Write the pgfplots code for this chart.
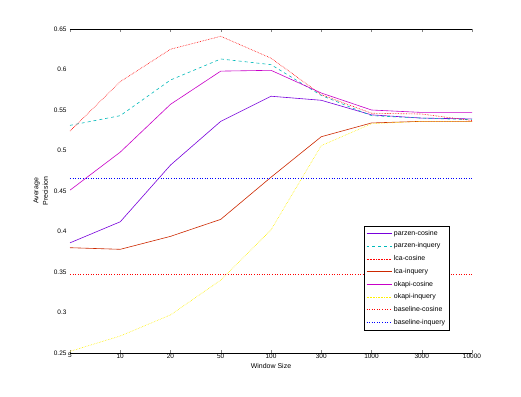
\documentclass[border=0pt]{standalone}
\usepackage{pgfplots}
\pgfplotsset{compat=1.18}
\usepackage{fontspec}
\setmainfont{Liberation Sans}
\definecolor{cpurple}{RGB}{120,0,220}
\definecolor{cmag}{RGB}{200,0,200}
\definecolor{ccyan}{RGB}{0,185,185}
\definecolor{cred}{RGB}{255,0,0}
\definecolor{corange}{RGB}{205,40,0}
\definecolor{cyellow}{RGB}{255,240,0}
\definecolor{cblue}{RGB}{0,0,255}
\begin{document}
\begin{tikzpicture}
\path[use as bounding box] (-70bp,-44bp) rectangle (451bp,353bp);
\begin{axis}[
  scale only axis, width=402bp, height=324bp,
  xmin=0, xmax=8, ymin=0.25, ymax=0.65,
  xtick={0,1,2,3,4,5,6,7,8},
  xticklabels={5,10,20,50,100,300,1000,3000,10000},
  ytick={0.25,0.3,0.35,0.4,0.45,0.5,0.55,0.6,0.65},
  yticklabels={0.25,0.3,0.35,0.4,0.45,0.5,0.55,0.6,0.65},
  separate axis lines,
  y axis line style={draw=none},
  x tick label style={font=\fontsize{6.5}{7.5}\selectfont, yshift=3pt},
  y tick label style={font=\fontsize{6.5}{7.5}\selectfont},
  label style={font=\fontsize{7}{8}\selectfont},
  xlabel={Window Size},
  xlabel style={yshift=2pt},
  ylabel={\shortstack{Average\\Precision}},
  ylabel style={yshift=-1pt},
  tick align=inside,
  ytick style={draw=none},
  major tick length=3pt,
  legend style={at={(0.731,0.392)}, anchor=north west, font=\fontsize{7}{8}\selectfont,
    row sep=2.2pt, inner sep=2pt},
  legend image code/.code={\draw[#1] (0bp,0bp) -- (25bp,0bp);},
  legend cell align=left,
  every axis plot/.append style={line width=0.6pt},
]
\addplot[color=cpurple, mark=none] coordinates {(0,0.386)(1,0.412)(2,0.482)(3,0.536)(4,0.567)(5,0.562)(6,0.544)(7,0.540)(8,0.539)};
\addlegendentry{parzen-cosine}
\addplot[color=ccyan, dashed, mark=none] coordinates {(0,0.531)(1,0.543)(2,0.587)(3,0.613)(4,0.606)(5,0.568)(6,0.543)(7,0.540)(8,0.538)};
\addlegendentry{parzen-inquery}
\addplot[color=cred, densely dotted, mark=none] coordinates {(0,0.524)(1,0.585)(2,0.625)(3,0.641)(4,0.614)(5,0.569)(6,0.546)(7,0.545)(8,0.537)};
\addlegendentry{lca-cosine}
\addplot[color=corange, mark=none] coordinates {(0,0.380)(1,0.378)(2,0.394)(3,0.415)(4,0.467)(5,0.517)(6,0.534)(7,0.536)(8,0.536)};
\addlegendentry{lca-inquery}
\addplot[color=cmag, mark=none] coordinates {(0,0.451)(1,0.498)(2,0.557)(3,0.598)(4,0.599)(5,0.571)(6,0.550)(7,0.547)(8,0.547)};
\addlegendentry{okapi-cosine}
\addplot[color=cyellow, densely dotted, mark=none] coordinates {(0,0.252)(1,0.271)(2,0.297)(3,0.340)(4,0.402)(5,0.506)(6,0.533)(7,0.536)(8,0.536)};
\addlegendentry{okapi-inquery}
\addplot[color=cred, dotted, line width=0.9pt, mark=none] coordinates {(0,0.3475)(8,0.3475)};
\addlegendentry{baseline-cosine}
\addplot[color=cblue, dotted, line width=0.9pt, mark=none] coordinates {(0,0.465)(8,0.465)};
\addlegendentry{baseline-inquery}
\end{axis}
\end{tikzpicture}
\end{document}
